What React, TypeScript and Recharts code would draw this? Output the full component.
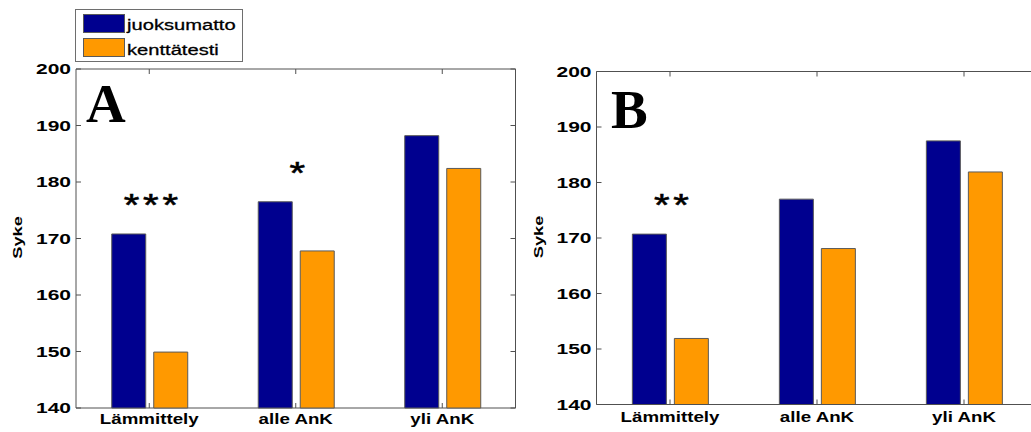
import React from "react";
import {
  Bar,
  BarChart,
  LabelList,
  Legend,
  ReferenceArea,
  ReferenceLine,
  XAxis,
  YAxis,
} from "recharts";

const categories = ["Lämmittely", "alle AnK", "yli AnK"];
const juoksumattoA = [170.8, 176.5, 188.2];
const kenttatestiA = [149.9, 167.8, 182.4];
const juoksumattoB = [170.7, 177.0, 187.5];
const kenttatestiB = [151.9, 168.1, 181.9];
const merkitsevyysA = ["***", "*", ""];
const merkitsevyysB = ["**", "", ""];
const sykeTicks = [140, 150, 160, 170, 180, 190, 200];

const BLUE = "#00008F";
const ORANGE = "#FF9900";
const AXIS = "#505050";
const EDGE = "#5a5a5a";
const FONT = "'Liberation Sans', Arial, sans-serif";
const SERIF = "'Liberation Serif', 'Times New Roman', serif";

const toRows = (a: number[], b: number[], m: string[]) =>
  categories.map((name, i) => ({
    name,
    juoksumatto: a[i],
    kenttatesti: b[i],
    merk: m[i],
  }));

// y labels left of the box; inward ticks on the left (and right) side
const makeLeftTick = (plotW: number, rightTicks: boolean) => (props: any) => {
  const { x, y, payload } = props;
  const left = x + 5;
  return (
    <g>
      <line x1={left} x2={left + 5} y1={y} y2={y} stroke={AXIS} />
      {rightTicks && (
        <line x1={left + plotW} x2={left + plotW - 5} y1={y} y2={y} stroke={AXIS} />
      )}
      <text
        transform={`translate(${x} ${y}) scale(1.5 1)`}
        textAnchor="end"
        dy="0.36em"
        fontSize={14}
        fontWeight="bold"
        fontFamily={FONT}
        fill="#000"
      >
        {payload.value}
      </text>
    </g>
  );
};

// category labels under the box; inward ticks on the bottom and top edge
const makeBottomTick = (gap: number, plotH: number) => (props: any) => {
  const { x, y, payload } = props;
  const bottom = y - gap;
  return (
    <g>
      <line x1={x} x2={x} y1={bottom} y2={bottom - 5} stroke={AXIS} />
      <line x1={x} x2={x} y1={bottom - plotH} y2={bottom - plotH + 5} stroke={AXIS} />
      <text
        transform={`translate(${x} ${y}) scale(1.25 1)`}
        textAnchor="middle"
        fontSize={15}
        fontWeight="bold"
        fontFamily={FONT}
        fill="#000"
      >
        {payload.value}
      </text>
    </g>
  );
};

const makeSykeLabel = (bx: number) => (props: any) => {
  const vb = props.viewBox ?? { x: 0, y: 0, height: 0 };
  return (
    <text
      transform={`translate(${vb.x + bx} ${vb.y + vb.height / 2 - 1}) rotate(-90) scale(1.35 1)`}
      textAnchor="middle"
      fontSize={13.5}
      fontWeight="bold"
      fontFamily={FONT}
      fill="#000"
    >
      Syke
    </text>
  );
};

const SigLabel = (props: any) => {
  const { x, y, width, value } = props;
  if (!value) return null;
  const cx = Number(x) + Number(width) + 7;
  return (
    <text
      transform={`translate(${cx} ${Number(y) - 18}) scale(1.25 1)`}
      textAnchor="middle"
      fontSize={32}
      fontFamily={FONT}
      stroke="#000"
      strokeWidth={0.6}
      letterSpacing={3}
      fill="#000"
    >
      {value}
    </text>
  );
};

const LegendBox = (props: any) => {
  const items = props.payload ?? [];
  return (
    <svg width={168} height={53} style={{ display: "block" }}>
      <rect x={0.5} y={0.5} width={167} height={52} fill="#fff" stroke="#6e6e6e" />
      {items.map((it: any, i: number) => (
        <g key={it.value}>
          <rect x={8.5} y={5.5 + i * 24} width={41} height={18} fill={it.color} stroke={EDGE} />
          <text
            transform={`translate(52 ${20.5 + i * 25.5}) scale(1.3 1)`}
            fontSize={15.5}
            fontFamily={FONT}
            stroke="#000"
            strokeWidth={0.3}
            fill="#000"
          >
            {it.value}
          </text>
        </g>
      ))}
    </svg>
  );
};

type PanelProps = {
  left: number;
  width: number;
  letter: string;
  letterX: number;
  letterY: number;
  rows: ReturnType<typeof toRows>;
  top: number;
  yWidth: number;
  right: number;
  xHeight: number;
  labelGap: number;
  sykeX: number;
  closedBox: boolean;
  legend?: boolean;
};

const Panel = (p: PanelProps) => {
  const plotW = p.width - p.yWidth - p.right;
  const plotH = 432 - p.top - p.xHeight;
  return (
    <div style={{ position: "absolute", left: p.left, top: 0, width: p.width, height: 432 }}>
      <BarChart
        width={p.width}
        height={432}
        data={p.rows}
        margin={{ top: p.top, right: p.right, bottom: 0, left: 0 }}
        barCategoryGap="24.4%"
        barGap={8}
      >
        <XAxis
          dataKey="name"
          height={p.xHeight}
          interval={0}
          tickLine={false}
          tickSize={0}
          tickMargin={p.labelGap}
          tick={makeBottomTick(p.labelGap, plotH)}
          axisLine={p.closedBox ? false : { stroke: AXIS }}
        />
        <YAxis
          width={p.yWidth}
          domain={[140, 200]}
          ticks={sykeTicks}
          interval={0}
          tickLine={false}
          tickSize={0}
          tickMargin={5}
          tick={makeLeftTick(plotW, p.closedBox)}
          axisLine={p.closedBox ? false : { stroke: AXIS }}
          label={makeSykeLabel(p.sykeX)}
        />
        {/* axes box: full frame, or just the top edge when the right side runs off the page */}
        {p.closedBox ? (
          <ReferenceArea y1={140} y2={200} fill="none" stroke={AXIS} strokeWidth={1} />
        ) : (
          <ReferenceLine y={200} stroke={AXIS} strokeWidth={1} />
        )}
        {p.legend && (
          <Legend
            layout="vertical"
            align="center"
            verticalAlign="middle"
            wrapperStyle={{ left: 75, top: 9, width: 168, height: 53, lineHeight: 0 }}
            content={LegendBox}
          />
        )}
        <Bar
          dataKey="juoksumatto"
          name="juoksumatto"
          fill={BLUE}
          stroke={EDGE}
          strokeWidth={1}
          isAnimationActive={false}
        >
          <LabelList dataKey="merk" content={SigLabel} />
        </Bar>
        <Bar
          dataKey="kenttatesti"
          name="kenttätesti"
          fill={ORANGE}
          stroke={EDGE}
          strokeWidth={1}
          isAnimationActive={false}
        />
      </BarChart>
      <svg
        width={p.width}
        height={432}
        style={{ position: "absolute", left: 0, top: 0, pointerEvents: "none" }}
      >
        <text x={p.letterX} y={p.letterY} fontSize={55} fontWeight="bold" fontFamily={SERIF} fill="#000">
          {p.letter}
        </text>
      </svg>
    </div>
  );
};

export default function App() {
  return (
    <div
      style={{
        position: "absolute",
        left: 0,
        top: 0,
        width: 1031,
        height: 432,
        overflow: "hidden",
        background: "#fff",
      }}
    >
      <Panel
        left={0}
        width={520}
        letter="A"
        letterX={86}
        letterY={122}
        rows={toRows(juoksumattoA, kenttatestiA, merkitsevyysA)}
        top={69}
        yWidth={76}
        right={4.5}
        xHeight={24}
        labelGap={16}
        sykeX={21.5}
        closedBox
        legend
      />
      <Panel
        left={520}
        width={560}
        letter="B"
        letterX={91}
        letterY={128}
        rows={toRows(juoksumattoB, kenttatestiB, merkitsevyysB)}
        top={71.5}
        yWidth={76.5}
        right={42.5}
        xHeight={27.5}
        labelGap={17}
        sykeX={22.6}
        closedBox={false}
      />
    </div>
  );
}
